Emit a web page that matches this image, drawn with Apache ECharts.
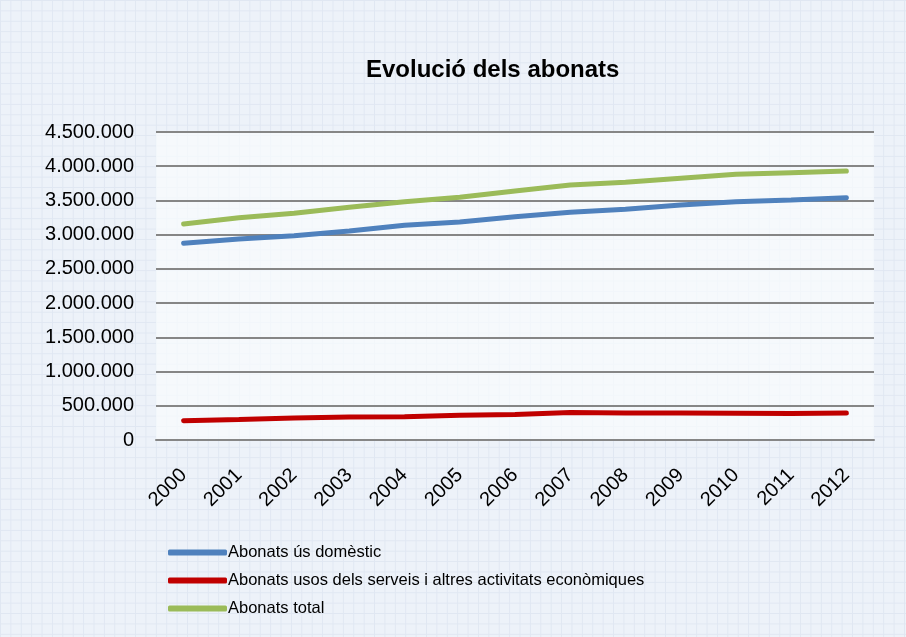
<!DOCTYPE html>
<html>
<head>
<meta charset="utf-8">
<script src="https://cdn.jsdelivr.net/npm/echarts@6/dist/echarts.min.js"></script>
<style>
html,body{margin:0;padding:0;}
body{
  width:906px;height:637px;overflow:hidden;
  background-color:#edf2f9;
  background-image:linear-gradient(#e0e7f2 1px, transparent 1px),linear-gradient(90deg,#e0e7f2 1px, transparent 1px);
  background-size:10.4px 10.4px;
}
#chart{width:906px;height:637px;}
</style>
</head>
<body>
<div id="chart"></div>
<script>
const years = ['2000','2001','2002','2003','2004','2005','2006','2007','2008','2009','2010','2011','2012'];
const domestic = [2874000,2937000,2985000,3054000,3137000,3185000,3263000,3327000,3371000,3434000,3482000,3507000,3540000];
const serveis = [282000,300000,320000,335000,340000,360000,372000,402000,395000,393000,392000,387000,393000];
const total = [3156000,3248000,3312000,3400000,3482000,3546000,3638000,3726000,3765000,3824000,3882000,3906000,3930000];
const seriesNames = ['Abonats ús domèstic','Abonats usos dels serveis i altres activitats econòmiques','Abonats total'];
const colors = ['#4f81bd','#c00000','#9bbb59'];

function fmt(v){return String(v).replace(/\B(?=(\d{3})+(?!\d))/g,'.');}

const chart = echarts.init(document.getElementById('chart'));
const font = '"Liberation Sans", Arial, sans-serif';
chart.setOption({
  backgroundColor:'transparent',
  animation:false,
  title:{
    text:'Evolució dels abonats',
    left:361, top:53,
    textStyle:{fontFamily:font,fontSize:24,fontWeight:'bold',color:'#000'}
  },
  grid:{left:156,right:32,top:132,bottom:197,show:true,backgroundColor:'rgba(250,252,254,0.7)',borderWidth:0},
  legend:{
    orient:'vertical',left:163,top:539,
    itemWidth:59,itemHeight:6,itemGap:11,
    icon:'roundRect',
    textStyle:{fontFamily:font,fontSize:16.5,color:'#000',padding:[0,0,0,-4]},
    data:seriesNames
  },
  xAxis:{
    type:'category',data:years,boundaryGap:true,
    axisLine:{show:true,lineStyle:{color:'#868686',width:2}},
    axisTick:{show:false},
    axisLabel:{rotate:45,margin:32,fontFamily:font,fontSize:20,color:'#000'}
  },
  yAxis:{
    type:'value',min:0,max:4500000,interval:500000,
    axisLine:{show:false},axisTick:{show:false},
    axisLabel:{margin:22,fontFamily:font,fontSize:20,color:'#000',formatter:fmt},
    splitLine:{lineStyle:{color:'#868686',width:2}}
  },
  series:[
    {name:seriesNames[0],type:'line',data:domestic,showSymbol:false,symbol:'none',lineStyle:{width:5,color:colors[0],cap:'round'},itemStyle:{color:colors[0]}},
    {name:seriesNames[1],type:'line',data:serveis,showSymbol:false,symbol:'none',lineStyle:{width:5,color:colors[1],cap:'round'},itemStyle:{color:colors[1]}},
    {name:seriesNames[2],type:'line',data:total,showSymbol:false,symbol:'none',lineStyle:{width:5,color:colors[2],cap:'round'},itemStyle:{color:colors[2]}}
  ]
});
</script>
</body>
</html>
